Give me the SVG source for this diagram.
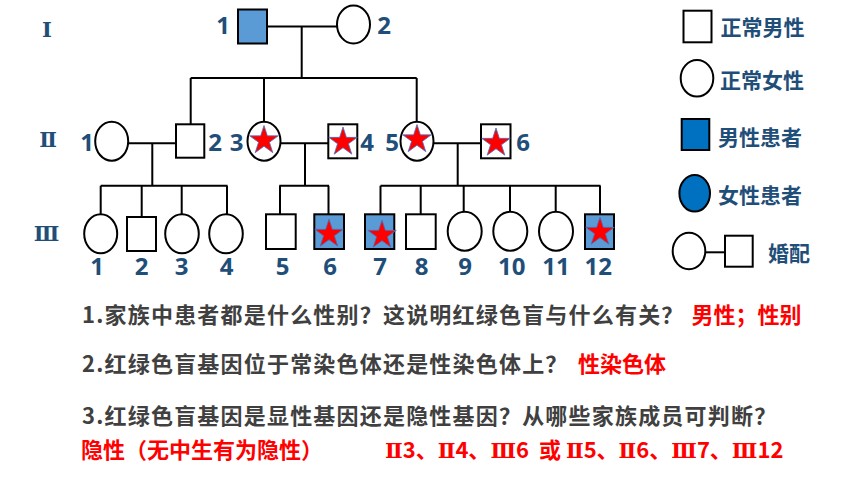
<svg xmlns="http://www.w3.org/2000/svg" xmlns:xlink="http://www.w3.org/1999/xlink" width="860" height="484" viewBox="0 0 860 484">
<style>
.s{fill:#fff;stroke:#000;stroke-width:2}
.a{fill:#5b9bd5;stroke:#000;stroke-width:2}
.lg{fill:#0070c0;stroke:#000;stroke-width:2}
.ln{fill:none;stroke:#000;stroke-width:2}
.num{font-family:"Open Sans","Noto Sans",sans-serif;font-weight:bold;font-size:24px;fill:#1f4e79;text-anchor:middle}
.rom{font-family:"DejaVu Serif",serif;font-weight:bold;font-size:21px;fill:#1f4e79;text-anchor:middle}
.rm{font-family:"DejaVu Serif",serif;font-weight:bold;font-size:21px}
.leg{font-family:"Noto Sans CJK SC",sans-serif;font-weight:bold;font-size:21px;fill:#1f4e79}
.q{font-family:"Noto Sans CJK SC",sans-serif;font-weight:bold;font-size:22px;fill:#404040;letter-spacing:1.2px}
.r{font-family:"Noto Sans CJK SC",sans-serif;font-weight:bold;font-size:22px;fill:#ff0000}
</style>
<defs>
<path id="star" d="M0,-15 L3.37,-4.64 L14.27,-4.64 L5.45,1.77 L8.82,12.14 L0,5.73 L-8.82,12.14 L-5.45,1.77 L-14.27,-4.64 L-3.37,-4.64 Z" fill="#ff0000" stroke="#4472c4" stroke-width="0.8"/>
</defs>
<g id="connectors">
<path class="ln" d="M267,26.5 H337 M301.7,26.5 V78 M190.7,78 H416.7 M190.7,78 V124 M264,78 V121.5 M416.7,78 V121.5"/>
<path class="ln" d="M128,143.3 H176 M152.3,143.3 V185.7 M100.7,185.7 H227.5 M100.7,185.7 V214 M141.7,185.7 V217 M181.7,185.7 V214 M227,185.7 V214"/>
<path class="ln" d="M281,143.3 H328 M305,143.3 V185.7 M279.3,185.7 H329 M280,185.7 V214 M328.5,185.7 V214"/>
<path class="ln" d="M433.5,143.3 H481 M457.7,143.3 V185.7 M380.5,185.7 H600.5 M380.5,185.7 V214 M420.7,185.7 V214 M463.7,185.7 V212 M510,185.7 V212 M555.7,185.7 V212 M600,185.7 V214"/>
</g>
<g id="gen-labels">
<text class="rom" x="47" y="37">Ⅰ</text>
<text class="rom" x="48" y="147">Ⅱ</text>
<text class="rom" x="46.5" y="241">Ⅲ</text>
</g>
<g id="I-1"><rect class="a" x="238" y="9.5" width="29" height="34"/><text class="num" x="223" y="34">1</text></g>
<g id="I-2"><ellipse class="s" cx="353.5" cy="24.5" rx="16.5" ry="19"/><text class="num" x="384" y="34">2</text></g>
<g id="II-1"><ellipse class="s" cx="111.7" cy="141.2" rx="16.5" ry="19.5"/><text class="num" x="87" y="151">1</text></g>
<g id="II-2"><rect class="s" x="176" y="124.3" width="28.3" height="33.4"/><text class="num" x="215" y="151">2</text></g>
<g id="II-3"><ellipse class="s" cx="264" cy="141.2" rx="16.5" ry="19.5"/><use xlink:href="#star" x="264" y="140.5"/><text class="num" x="236.5" y="151">3</text></g>
<g id="II-4"><rect class="s" x="328.3" y="124.3" width="29" height="34"/><use xlink:href="#star" x="343" y="142"/><text class="num" x="367" y="151">4</text></g>
<g id="II-5"><ellipse class="s" cx="417" cy="141.2" rx="16.5" ry="19.5"/><use xlink:href="#star" x="417" y="139.5"/><text class="num" x="392" y="151">5</text></g>
<g id="II-6"><rect class="s" x="481" y="124.3" width="29.5" height="34"/><use xlink:href="#star" x="496" y="143"/><text class="num" x="523" y="151">6</text></g>
<g id="III-1"><ellipse class="s" cx="100.7" cy="233.8" rx="16.5" ry="19.5"/><text class="num" x="97" y="275">1</text></g>
<g id="III-2"><rect class="s" x="127" y="217" width="29" height="34"/><text class="num" x="141.7" y="275">2</text></g>
<g id="III-3"><ellipse class="s" cx="182" cy="233.8" rx="16.8" ry="19.5"/><text class="num" x="181.7" y="275">3</text></g>
<g id="III-4"><ellipse class="s" cx="226" cy="233.8" rx="16.8" ry="19.5"/><text class="num" x="226.7" y="275">4</text></g>
<g id="III-5"><rect class="s" x="266" y="214.3" width="29.7" height="34.7"/><text class="num" x="282.7" y="275">5</text></g>
<g id="III-6"><rect class="a" x="314.3" y="214.3" width="29.7" height="34.7"/><use xlink:href="#star" x="329" y="234"/><text class="num" x="330" y="275">6</text></g>
<g id="III-7"><rect class="a" x="365" y="214.3" width="29.3" height="34.7"/><use xlink:href="#star" x="382" y="235"/><text class="num" x="380" y="275">7</text></g>
<g id="III-8"><rect class="s" x="406" y="214.3" width="29.7" height="34.7"/><text class="num" x="421.7" y="275">8</text></g>
<g id="III-9"><ellipse class="s" cx="464.7" cy="231.2" rx="17" ry="19.5"/><text class="num" x="465" y="275">9</text></g>
<g id="III-10"><ellipse class="s" cx="510.3" cy="231.2" rx="17" ry="19.5"/><text class="num" x="511.7" y="275">10</text></g>
<g id="III-11"><ellipse class="s" cx="556" cy="231.2" rx="17" ry="19.5"/><text class="num" x="556" y="275">11</text></g>
<g id="III-12"><rect class="a" x="585" y="214.3" width="29" height="34.7"/><use xlink:href="#star" x="600" y="232"/><text class="num" x="598.3" y="275">12</text></g>
<g id="legend-normal-male"><rect class="s" x="683.5" y="10.7" width="28" height="31.6"/><text class="leg" x="720.5" y="35">正常男性</text></g>
<g id="legend-normal-female"><ellipse class="s" cx="697" cy="78.3" rx="16.3" ry="18.3"/><text class="leg" x="720" y="88">正常女性</text></g>
<g id="legend-affected-male"><rect class="lg" x="681.7" y="119" width="27.6" height="31"/><text class="leg" x="718" y="145">男性患者</text></g>
<g id="legend-affected-female"><ellipse class="lg" cx="694.7" cy="193.3" rx="15.3" ry="18.3"/><text class="leg" x="718" y="203">女性患者</text></g>
<g id="legend-marriage"><ellipse class="s" cx="689" cy="251" rx="16.3" ry="18.3"/><path class="ln" d="M705.3,252.3 H725"/><rect class="s" x="725" y="235.7" width="27.7" height="31"/><text class="leg" x="768" y="261">婚配</text></g>
<g id="questions">
<text class="q" x="82" y="323">1.家族中患者都是什么性别？这说明红绿色盲与什么有关？</text>
<text class="r" x="691.5" y="323">男性；性别</text>
<text class="q" x="82" y="372">2.红绿色盲基因位于常染色体还是性染色体上？</text>
<text class="r" x="578" y="372">性染色体</text>
<text class="q" x="82" y="424">3.红绿色盲基因是显性基因还是隐性基因？从哪些家族成员可判断？</text>
<text class="r" x="81" y="458">隐性（无中生有为隐性）</text>
<text class="r" x="385" y="458" xml:space="preserve"><tspan class="rm">Ⅱ</tspan>3、<tspan class="rm">Ⅱ</tspan>4、<tspan class="rm">Ⅲ</tspan>6  或 <tspan class="rm">Ⅱ</tspan>5、<tspan class="rm">Ⅱ</tspan>6、<tspan class="rm">Ⅲ</tspan>7、<tspan class="rm">Ⅲ</tspan>12</text>
</g>
</svg>
